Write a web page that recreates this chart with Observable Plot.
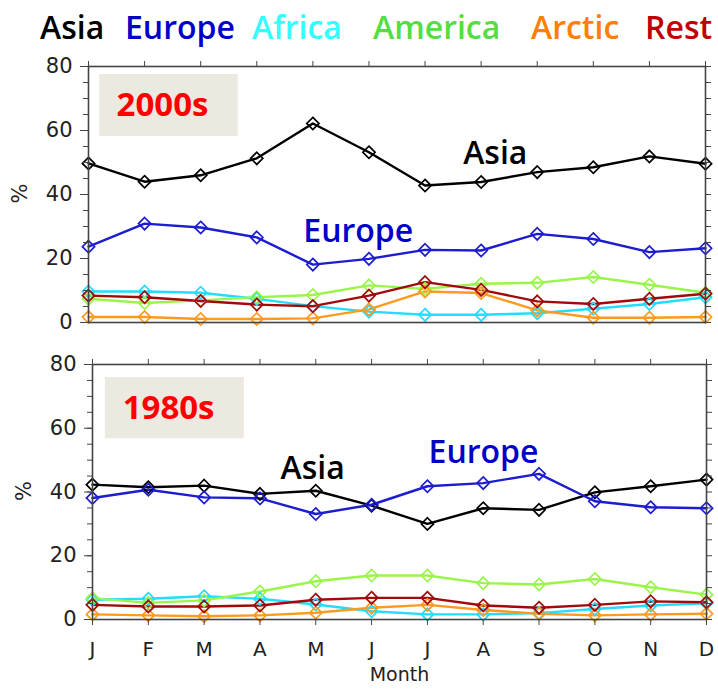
<!DOCTYPE html>
<html><head><meta charset="utf-8">
<script src="https://cdn.jsdelivr.net/npm/d3@7"></script>
<script src="https://cdn.jsdelivr.net/npm/@observablehq/plot@0.6"></script>
<style>
body{margin:0;background:#fff;}
#chart{width:718px;height:690px;}
svg{display:block}
</style></head><body><div id="chart"></div>
<script>
const months = ["J","F","M","A","M","J","J","A","S","O","N","D"];
const regions = ["Asia","Europe","Africa","America","Arctic","Rest"];
const lineColors = ["#000000","#1c1cd0","#22ddff","#9af54a","#ff9a1e","#a00a0a"];
const legendColors = ["#000000","#0000c8","#33ffff","#55dd44","#ff8000","#c00000"];
const yTicks = [0,20,40,60,80];

// 2000s (%)
const asia2000s    = [49.7,44.0,46.0,51.3,62.2,53.2,42.8,43.9,47.0,48.5,51.9,49.6];
const europe2000s  = [23.7,30.9,29.7,26.6,18.1,19.9,22.7,22.5,27.7,26.1,22.0,23.2];
const africa2000s  = [9.7,9.7,9.3,7.4,5.1,3.4,2.4,2.4,2.9,4.3,5.8,7.9];
const america2000s = [7.4,6.1,6.9,7.9,8.6,11.6,10.5,12.1,12.4,14.2,11.8,9.3];
const arctic2000s  = [1.7,1.7,1.1,1.1,1.3,4.1,9.7,9.2,3.8,1.5,1.5,1.7];
const rest2000s    = [8.4,7.9,6.7,5.6,5.1,8.4,12.6,10.2,6.6,5.8,7.4,9.0];

// 1980s (%)
const asia1980s    = [42.3,41.5,42.0,39.4,40.4,35.7,30.0,34.9,34.4,39.9,41.8,43.9];
const europe1980s  = [38.1,40.7,38.3,38.0,33.1,36.0,41.8,42.8,45.7,37.1,35.2,34.9];
const africa1980s  = [6.2,6.5,7.3,6.5,4.7,2.6,1.6,1.6,2.0,3.3,4.4,5.1];
const america1980s = [6.7,5.2,6.0,8.8,12.0,13.8,13.8,11.4,11.0,12.7,10.1,7.8];
const arctic1980s  = [1.6,1.3,1.0,1.3,2.1,3.7,4.6,3.0,1.8,1.3,1.6,1.8];
const rest1980s    = [4.6,4.1,4.1,4.4,6.2,6.8,6.8,4.4,3.7,4.6,5.7,5.4];

// panel annotations (month index, value)
const box2000s = {label:"2000s", x1:0.2, x2:2.67, y1:58.1, y2:77.5, tx:0.5, ty:67.7};
const box1980s = {label:"1980s", x1:0.23, x2:2.72, y1:56.7, y2:75.9, tx:0.54, ty:66.3};
const labels2000s = [{text:"Asia", x:6.68, y:52.7, c:"#000000"},{text:"Europe", x:3.83, y:28.3, c:"#0000c8"}];
const labels1980s = [{text:"Asia", x:3.37, y:47.3, c:"#000000"},{text:"Europe", x:6.02, y:52.2, c:"#0000c8"}];

function rows(series) {
  const out = [];
  regions.forEach((r, k) => series[k].forEach((v, i) => out.push({month:i, region:r, value:v})));
  return out;
}
const data2000s = rows([asia2000s, europe2000s, africa2000s, america2000s, arctic2000s, rest2000s]);
const data1980s = rows([asia1980s, europe1980s, africa1980s, america1980s, arctic1980s, rest1980s]);

const chart = document.getElementById("chart");

// Legend
const legendX = [40,125,252,373,531,645];
const lg = d3.create("svg").attr("width",718).attr("height",58);
regions.forEach((r,k) => {
  lg.append("text").attr("x",legendX[k]).attr("y",39).text(r)
    .attr("fill",legendColors[k]).attr("font-family","Open Sans, sans-serif")
    .attr("font-size",32).attr("font-weight",600);
});
chart.appendChild(lg.node());

function panel({data, height, marginTop, marginBottom, marginLeft, marginRight, box, labels, showX}) {
  const tickStroke = "#444";
  const marks = [
    Plot.rect([box], {x1:"x1", x2:"x2", y1:"y1", y2:"y2", fill:"#ece9e0"}),
    Plot.text([box], {x:"tx", y:"ty", text:"label", textAnchor:"start", fill:"#ff0000", fontSize:33, fontWeight:700, fontFamily:"Open Sans, sans-serif"}),
    Plot.text(labels, {x:"x", y:"y", text:"text", fill:"c", textAnchor:"start", fontSize:32, fontWeight:600, fontFamily:"Open Sans, sans-serif"}),
    Plot.line(data, {x:"month", y:"value", z:"region", stroke:"region", strokeWidth:2.4}),
    Plot.dot(data, {x:"month", y:"value", stroke:"region", symbol:"diamond2", r:5.5, strokeWidth:1.7}),
    Plot.frame({stroke:tickStroke, strokeWidth:1.6}),
    Plot.axisY({ticks:d3.range(0,81,5), tickSize:5, tickFormat:() => "", label:null, stroke:tickStroke}),
    Plot.axisY({ticks:yTicks, tickSize:8, tickPadding:8, fontSize:21, label:null, stroke:tickStroke, fill:"#222"}),
    Plot.axisY({anchor:"right", ticks:d3.range(0,81,5), tickSize:5, tickFormat:() => "", label:null, stroke:tickStroke}),
    Plot.axisX({anchor:"top", ticks:d3.range(0,12), tickSize:6, tickFormat:() => "", label:null, stroke:tickStroke}),
    Plot.text(["%"], {frameAnchor:"left", dx:-68, dy:9, rotate:-90, text:d=>d, fontSize:21, fill:"#222"})
  ];
  if (showX) {
    marks.push(Plot.axisX({anchor:"bottom", ticks:d3.range(0,12), tickSize:6, tickPadding:16, tickFormat:i => months[i], fontSize:20, label:null, stroke:tickStroke, fill:"#222"}));
    marks.push(Plot.text(["Month"], {frameAnchor:"bottom", dy:61, text:d=>d, fontSize:19, fill:"#222"}));
  }
  return Plot.plot({
    width:718, height, marginTop, marginBottom, marginLeft, marginRight,
    x:{domain:[0,11]}, y:{domain:[0,80]},
    color:{domain:regions, range:lineColors},
    style:{fontFamily:"DejaVu Sans, sans-serif", background:"transparent", overflow:"visible"},
    marks
  });
}

chart.appendChild(panel({data:data2000s, height:286, marginTop:8, marginBottom:22, marginLeft:88, marginRight:13, box:box2000s, labels:labels2000s, showX:false}));
chart.appendChild(panel({data:data1980s, height:346, marginTop:20, marginBottom:71, marginLeft:92, marginRight:12, box:box1980s, labels:labels1980s, showX:true}));
</script></body></html>
